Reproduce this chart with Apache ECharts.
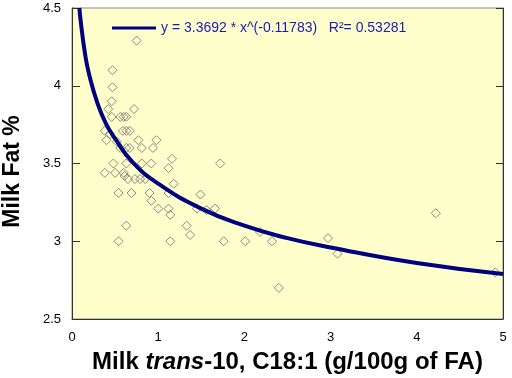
<!DOCTYPE html>
<html>
<head>
<meta charset="utf-8">
<script src="https://cdn.jsdelivr.net/npm/echarts@6/dist/echarts.min.js"></script>
<style>
html,body{margin:0;padding:0;background:#fff;}
#main{width:512px;height:378px;}
</style>
</head>
<body>
<div id="main"></div>
<script>
// milk trans-10 C18:1 vs milk fat
var transX = [0.75,0.47,0.47,0.46,0.42,0.72,0.46,0.56,0.60,0.63,0.38,0.44,0.59,0.63,0.67,
  0.77,0.98,0.40,0.52,0.63,0.67,0.81,0.94,0.56,0.48,0.38,0.50,0.60,0.63,0.81,0.92,
  1.16,1.12,1.72,0.65,0.73,0.79,0.85,0.61,1.18,0.54,0.69,0.90,0.92,1.12,1.49,
  1.00,1.12,1.14,1.45,1.56,1.66,0.63,1.33,1.37,0.54,1.14,1.76,2.01,2.18,2.32,
  2.97,3.08,2.40,4.22,4.91];
var fatY = [4.29,4.10,3.99,3.90,3.85,3.85,3.80,3.80,3.80,3.80,3.71,3.69,3.71,3.71,3.71,
  3.65,3.65,3.65,3.64,3.60,3.60,3.60,3.60,3.60,3.50,3.44,3.44,3.44,3.50,3.50,3.50,
  3.53,3.47,3.50,3.40,3.40,3.40,3.40,3.42,3.37,3.31,3.31,3.31,3.26,3.31,3.30,
  3.21,3.21,3.17,3.21,3.20,3.21,3.10,3.10,3.04,3.00,3.00,3.00,3.00,3.06,3.00,
  3.02,2.92,2.70,3.18,2.80];

// fitted curve as drawn
var fitX = [0.086,0.1,0.15,0.2,0.3,0.4,0.5,0.7,1,1.5,2,2.5,3,4,5];
var fitY = [4.50,4.42,4.21,4.07,3.88,3.75,3.66,3.51,3.37,3.21,3.10,3.02,2.96,2.86,2.79];

var fitName = 'y = 3.3692 * x^(-0.11783)   R\u00b2= 0.53281';

var pts = [];
for (var i = 0; i < transX.length; i++) {
  pts.push([transX[i], fatY[i]]);
}
var curve = [];
for (var j = 0; j < fitX.length; j++) {
  curve.push([fitX[j], fitY[j]]);
}

var chart = echarts.init(document.getElementById('main'));
chart.setOption({
  animation: false,
  backgroundColor: '#ffffff',
  textStyle: {fontFamily: 'Liberation Sans, Arial, sans-serif'},
  grid: {
    left: 72, right: 9, top: 8, bottom: 59,
    outerBoundsMode: 'none',
    containLabel: false,
    show: true,
    backgroundColor: '#ffffcc',
    borderColor: '#8a8a8a',
    borderWidth: 1
  },
  legend: {
    data: [fitName],
    left: 107, top: 16,
    icon: 'rect',
    itemWidth: 44, itemHeight: 3,
    itemGap: 4,
    textStyle: {color: '#1a1ab4', fontSize: 14}
  },
  xAxis: {
    type: 'value', min: 0, max: 5, interval: 1,
    splitLine: {show: false},
    axisLine: {lineStyle: {color: '#333', width: 1}},
    axisTick: {show: false},
    axisLabel: {color: '#000', fontSize: 13, margin: 12},
    name: '{a|Milk }{b|trans}{a|-10, C18:1 (g/100g of FA)}',
    nameLocation: 'middle',
    nameGap: 31,
    nameTextStyle: {
      rich: {
        a: {fontSize: 24, fontWeight: 'bold', color: '#000'},
        b: {fontSize: 24, fontWeight: 'bold', fontStyle: 'italic', color: '#000'}
      }
    }
  },
  yAxis: [{
    type: 'value', min: 2.5, max: 4.5, interval: 0.5,
    splitLine: {show: false},
    axisLine: {show: true, lineStyle: {color: '#333', width: 1}},
    axisTick: {show: true, inside: true, length: 8, lineStyle: {color: '#333'}},
    axisLabel: {color: '#000', fontSize: 13, margin: 11},
    name: 'Milk Fat %',
    nameLocation: 'middle',
    nameGap: 48,
    nameTextStyle: {fontSize: 23, fontWeight: 'bold', color: '#000', padding: [0, 16, 0, 0]}
  }, {
    type: 'value', min: 2.5, max: 4.5, interval: 0.5,
    position: 'right',
    splitLine: {show: false},
    axisLine: {show: true, lineStyle: {color: '#333', width: 1}},
    axisTick: {show: true, inside: true, length: 7, lineStyle: {color: '#333'}},
    axisLabel: {show: false}
  }],
  series: [{
    type: 'scatter',
    data: pts,
    symbol: 'diamond',
    symbolSize: [9, 9],
    itemStyle: {color: 'rgba(0,0,0,0)', borderColor: '#6e6e6e', borderWidth: 1},
    silent: true
  }, {
    name: fitName,
    type: 'line',
    data: curve,
    smooth: true,
    showSymbol: false,
    clip: true,
    lineStyle: {color: '#000080', width: 4},
    itemStyle: {color: '#000080'}
  }]
});
</script>
</body>
</html>
